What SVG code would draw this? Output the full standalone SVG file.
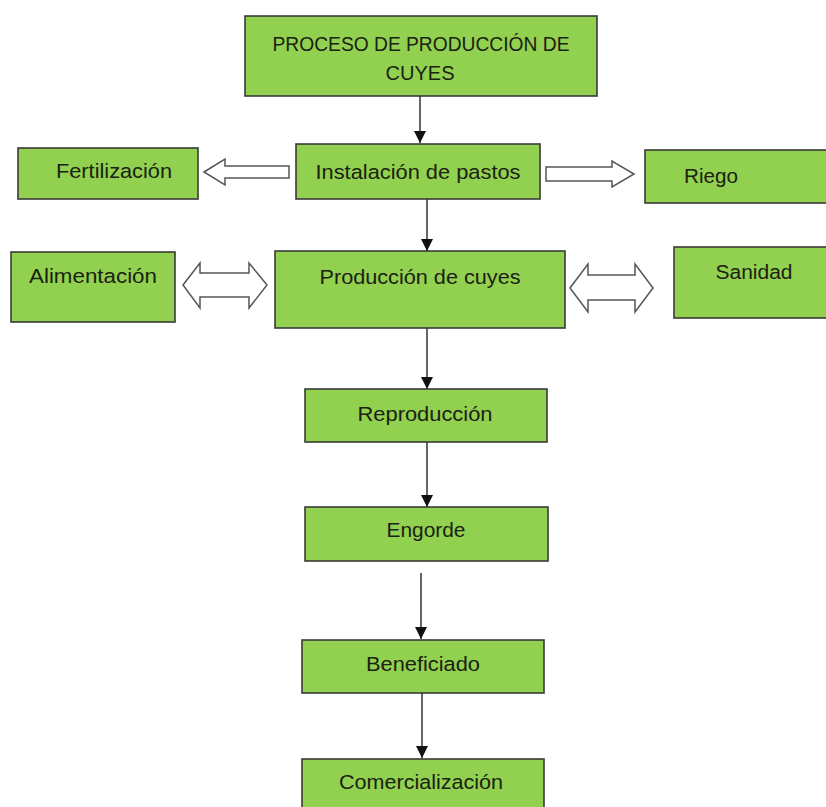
<svg xmlns="http://www.w3.org/2000/svg" width="826" height="807" viewBox="0 0 826 807">
<style>
.box{fill:#92D050;stroke:#3a3a3a;stroke-width:1.6}
.t{font-family:"Liberation Sans",Arial,sans-serif;font-size:20.5px;fill:#1a2212;text-anchor:middle}
.c{stroke:#333;stroke-width:1.5;fill:none}
.h{fill:#fff;stroke:#555;stroke-width:1.5;stroke-linejoin:miter}
</style>
<defs>
<marker id="ah" markerUnits="userSpaceOnUse" markerWidth="12" markerHeight="12" refX="12" refY="6" orient="auto">
<path d="M0,0 L12,6 L0,12 Z" fill="#111"/>
</marker>
</defs>
<rect width="826" height="807" fill="#fff"/>
<g id="connectors">
<line class="c" x1="420" y1="96" x2="420" y2="143" marker-end="url(#ah)"/>
<line class="c" x1="427" y1="199" x2="427" y2="251" marker-end="url(#ah)"/>
<line class="c" x1="427" y1="328" x2="427" y2="389" marker-end="url(#ah)"/>
<line class="c" x1="427" y1="442" x2="427" y2="507" marker-end="url(#ah)"/>
<line class="c" x1="421" y1="573" x2="421" y2="639" marker-end="url(#ah)"/>
<line class="c" x1="422" y1="693" x2="422" y2="758" marker-end="url(#ah)"/>
<path class="h" d="M204,172 L225,159 L225,166 L289,166 L289,178 L225,178 L225,185 Z"/>
<path class="h" d="M546,167 L612,167 L612,161 L634,174 L612,187 L612,181 L546,181 Z"/>
<path class="h" d="M183,285 L200,263 L200,273 L249,273 L249,263 L267,285 L249,308 L249,297 L200,297 L200,308 Z"/>
<path class="h" d="M570,288 L588,264 L588,275 L635,275 L635,264 L653,288 L635,312 L635,300 L588,300 L588,312 Z"/>
</g>
<g id="title">
<rect class="box" x="245" y="16" width="352" height="80"/>
<text class="t" x="421" y="51" textLength="297" lengthAdjust="spacingAndGlyphs">PROCESO DE PRODUCCIÓN DE</text>
<text class="t" x="420" y="80" textLength="69" lengthAdjust="spacingAndGlyphs">CUYES</text>
</g>
<g id="fertilizacion">
<rect class="box" x="18" y="148" width="180" height="51"/>
<text class="t" x="114" y="178" textLength="116" lengthAdjust="spacingAndGlyphs">Fertilización</text>
</g>
<g id="instalacion">
<rect class="box" x="296" y="144" width="244" height="55"/>
<text class="t" x="418" y="179" textLength="205" lengthAdjust="spacingAndGlyphs">Instalación de pastos</text>
</g>
<g id="riego">
<rect class="box" x="645" y="150" width="190" height="53"/>
<text class="t" x="711" y="183" textLength="54" lengthAdjust="spacingAndGlyphs">Riego</text>
</g>
<g id="alimentacion">
<rect class="box" x="11" y="252" width="164" height="70"/>
<text class="t" x="93" y="283" textLength="128" lengthAdjust="spacingAndGlyphs">Alimentación</text>
</g>
<g id="produccion">
<rect class="box" x="275" y="251" width="290" height="77"/>
<text class="t" x="420" y="284" textLength="201" lengthAdjust="spacingAndGlyphs">Producción de cuyes</text>
</g>
<g id="sanidad">
<rect class="box" x="674" y="247" width="170" height="71"/>
<text class="t" x="754" y="279" textLength="77" lengthAdjust="spacingAndGlyphs">Sanidad</text>
</g>
<g id="reproduccion">
<rect class="box" x="305" y="389" width="242" height="53"/>
<text class="t" x="425" y="421" textLength="135" lengthAdjust="spacingAndGlyphs">Reproducción</text>
</g>
<g id="engorde">
<rect class="box" x="305" y="507" width="243" height="54"/>
<text class="t" x="426" y="537" textLength="79" lengthAdjust="spacingAndGlyphs">Engorde</text>
</g>
<g id="beneficiado">
<rect class="box" x="302" y="640" width="242" height="53"/>
<text class="t" x="423" y="671" textLength="114" lengthAdjust="spacingAndGlyphs">Beneficiado</text>
</g>
<g id="comercializacion">
<rect class="box" x="302" y="759" width="242" height="60"/>
<text class="t" x="421" y="789" textLength="164" lengthAdjust="spacingAndGlyphs">Comercialización</text>
</g>
</svg>
